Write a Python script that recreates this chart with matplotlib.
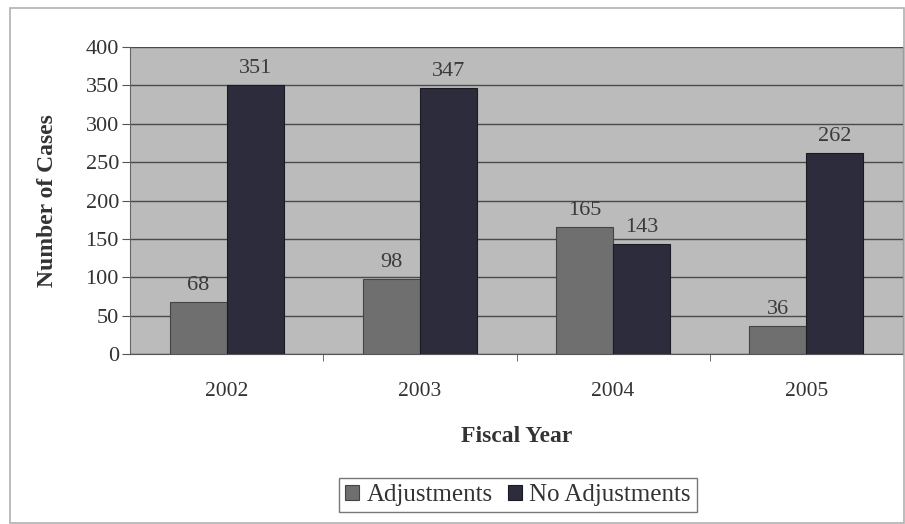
import matplotlib
matplotlib.use("Agg")
import matplotlib.pyplot as plt
from matplotlib.patches import Rectangle
import numpy as np

years = ["2002", "2003", "2004", "2005"]
adjustments = [68, 98, 165, 36]
no_adjustments = [351, 347, 143, 262]
series_names = ["Adjustments", "No Adjustments"]
yticks = [0, 50, 100, 150, 200, 250, 300, 350, 400]

plt.rcParams['font.family'] = ['Liberation Serif', 'DejaVu Serif']

fig = plt.figure(figsize=(9.05, 5.24), dpi=100)
fig.patch.set_facecolor("white")
fig.add_artist(Rectangle((10/905, 1/524), 894/905, 515/524, transform=fig.transFigure,
                         fill=False, edgecolor="#b0b0b0", linewidth=1.2))

ax = fig.add_axes([130/905, 1 - 354/524, 773/905, 307/524])
ax.set_facecolor("#bbbbbb")

x = np.arange(len(years))
w = 0.295
b1 = ax.bar(x - w/2, adjustments, w, color="#6f6f6f", edgecolor="#444444", linewidth=0.8,
            label=series_names[0], zorder=3)
b2 = ax.bar(x + w/2, no_adjustments, w, color="#2c2c3c", edgecolor="#1a1a22", linewidth=0.8,
            label=series_names[1], zorder=3)

for bars, vals in ((b1, adjustments), (b2, no_adjustments)):
    for r, v in zip(bars, vals):
        ax.annotate(str(v), (r.get_x() + r.get_width()/2, v), xytext=(0, 5),
                    textcoords="offset points", ha="center", va="bottom",
                    fontsize=16, color="#3a3a3a", zorder=4)

ax.set_xlim(-0.5, 3.5)
ax.set_ylim(0, 400)
ax.set_yticks(yticks)
ax.set_xticks(x)
ax.set_xticklabels(years)
ax.set_xticks([0.5, 1.5, 2.5], minor=True)
ax.yaxis.grid(True, color="#4a4a4a", linewidth=1.0, zorder=1)
ax.set_axisbelow(True)
ax.tick_params(axis="y", direction="out", length=6, color="#555555", labelsize=16,
               labelcolor="#333333", pad=2)
ax.tick_params(axis="x", which="major", length=0, labelsize=15.5,
               labelcolor="#333333", pad=20)
ax.tick_params(axis="x", which="minor", direction="out", length=5, color="#555555")
ax.spines["top"].set_visible(False)
ax.spines["left"].set_color("#666666")
ax.spines["bottom"].set_color("#555555")
ax.spines["right"].set_color("#444444")

ax.set_xlabel("Fiscal Year", fontsize=17, fontweight="bold", color="#333333")
ax.set_ylabel("Number of Cases", fontsize=17, fontweight="bold", color="#333333")
ax.xaxis.set_label_coords(0.5, (354 - 436) / 307)
ax.yaxis.set_label_coords((48 - 130) / 773, 0.5)
ax.xaxis.label.set_va("center")
ax.yaxis.label.set_va("center")

leg = fig.legend(handles=[b1, b2], labels=series_names, loc="center",
                 bbox_to_anchor=(518/905, 1 - 495/524), ncol=2, frameon=True,
                 fancybox=False, edgecolor="#555555", fontsize=18,
                 handlelength=0.55, handleheight=0.55, handletextpad=0.3,
                 columnspacing=0.6, borderpad=0.25)
leg.get_frame().set_linewidth(1.0)
for t in leg.get_texts():
    t.set_color("#333333")

fig.savefig("out.png", dpi=100)
